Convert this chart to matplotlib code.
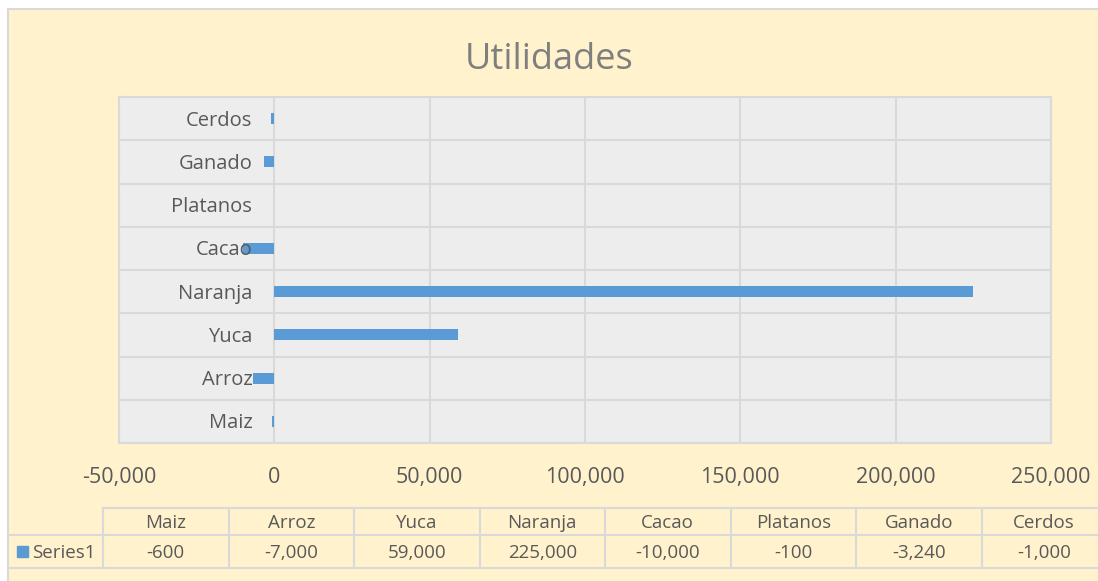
import numpy as np
import matplotlib.pyplot as plt

# datos
cultivos = ['Maiz', 'Arroz', 'Yuca', 'Naranja', 'Cacao', 'Platanos', 'Ganado', 'Cerdos']
utilidades = [-600, -7000, 59000, 225000, -10000, -100, -3240, -1000]
etiquetas_tabla = ['-600', '-7,000', '59,000', '225,000', '-10,000', '-100', '-3,240', '-1,000']
serie = 'Series1'
xticks = [-50000, 0, 50000, 100000, 150000, 200000, 250000]

fondo = '#FFF2CC'
gris = '#595959'
linea = '#D9D9D9'
azul = '#5B9BD5'

plt.rcParams['font.family'] = ['Open Sans', 'DejaVu Sans']

W, H = 1098, 581
fig = plt.figure(figsize=(W / 100, H / 100), dpi=100, facecolor='white')

def fx(px):
    return px / W

def fy(py):
    return 1 - py / H

# area del grafico (crema con borde gris, fuera es blanco)
fig.add_artist(plt.Rectangle((fx(8), fy(H + 5)), fx(W + 5) - fx(8), fy(9) - fy(H + 5),
                             facecolor=fondo, edgecolor=linea, lw=1.5, zorder=0))

ax = fig.add_axes([fx(119), fy(443), fx(1051) - fx(119), fy(97) - fy(443)])
ax.set_facecolor('#EDEDED')

y = np.arange(len(cultivos))
ax.barh(y, utilidades, height=0.26, color=azul, zorder=3)

ax.set_xlim(-50000, 250000)
ax.set_ylim(-0.5, len(cultivos) - 0.5)
ax.set_xticks(xticks)
ax.set_xticklabels([f'{v:,}' for v in xticks], fontsize=15.5, color=gris)
ax.set_yticks(np.arange(-0.5, len(cultivos), 1.0))
ax.set_yticklabels([])
ax.tick_params(length=0, pad=17)
ax.grid(True, color=linea, linewidth=1.5, zorder=1)
for s in ax.spines.values():
    s.set_color(linea)
    s.set_linewidth(1.5)

# etiquetas de categoria junto al eje en 0
for i, c in enumerate(cultivos):
    ax.annotate(c, (0, i), xytext=(-22, -2), textcoords='offset pixels',
                ha='right', va='center', fontsize=14.5, color=gris, zorder=4)

fig.text(0.5, fy(60), 'Utilidades', ha='center', va='center', fontsize=26, color='#7F7F7F')

# tabla de datos
col0 = 103
colw = 125.5
y_top, y_mid, y_bot = 508, 535, 568
n = len(cultivos)
x_end = col0 + n * colw
fig.add_artist(plt.Line2D([fx(col0), fx(x_end)], [fy(y_top)] * 2, color=linea, lw=1.5))
fig.add_artist(plt.Line2D([fx(8), fx(x_end)], [fy(y_mid)] * 2, color=linea, lw=1.5))
fig.add_artist(plt.Line2D([fx(8), fx(x_end)], [fy(y_bot)] * 2, color=linea, lw=1.5))
for k in range(n + 1):
    xk = col0 + k * colw
    fig.add_artist(plt.Line2D([fx(xk)] * 2, [fy(y_top), fy(y_bot)], color=linea, lw=1.5))
for k, (c, v) in enumerate(zip(cultivos, etiquetas_tabla)):
    xc = col0 + (k + 0.5) * colw
    fig.text(fx(xc), fy((y_top + y_mid) / 2 + 2), c, ha='center', va='center', fontsize=13.5, color=gris)
    fig.text(fx(xc), fy((y_mid + y_bot) / 2 + 1.5), v, ha='center', va='center', fontsize=13.5, color=gris)
fig.add_artist(plt.Rectangle((fx(17), fy(557)), fx(11), fy(546) - fy(557), color=azul))
fig.text(fx(32), fy((y_mid + y_bot) / 2 + 1.5), serie, ha='left', va='center', fontsize=13.5, color=gris)

fig.savefig('out.png', dpi=100, facecolor='white')
